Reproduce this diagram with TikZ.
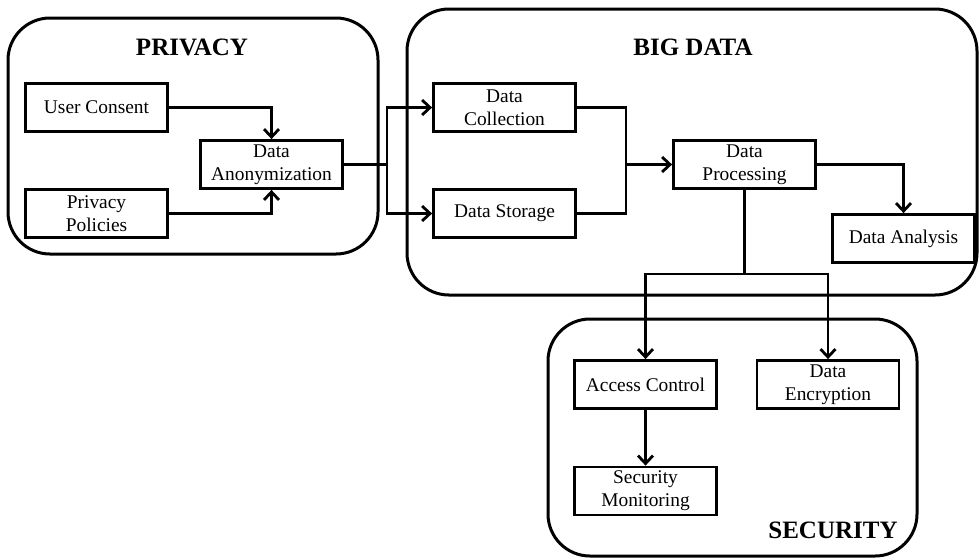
\documentclass[tikz,border=0pt]{standalone}
\usepackage{fontspec}
\setmainfont{Liberation Serif}
\usetikzlibrary{arrows.meta}
\usetikzlibrary{positioning}
\tikzset{
  box/.style={draw, line width=1.4pt, fill=white, minimum width=71pt, minimum height=24pt,
    align=center, inner sep=1pt, font=\fontsize{9.7pt}{11.5pt}\selectfont},
  group/.style={draw, line width=1.5pt, rounded corners=21pt},
  grouptitle/.style={font=\fontsize{12.5pt}{14pt}\selectfont\bfseries},
  arr/.style={line width=1.4pt, -{Straight Barb[length=4pt,width=7.5pt,line width=1.4pt]}},
  wire/.style={line width=1.4pt},
}

\begin{document}
\begin{tikzpicture}[x=0.5pt, y=-0.5pt]
      \useasboundingbox (0,0) rectangle (979,559);

      \draw [group] (8,18) rectangle (378,254);
      \draw [group] (407,9) rectangle (977,295);
      \draw [group] (548,319) rectangle (917,556);

      \node [grouptitle] (privacy) at (192,47) {PRIVACY};
      \node [grouptitle] (bigdata) at (693,47) {BIG DATA};
      \node [grouptitle] (security) at (833,530) {SECURITY};

      \node [box] (consent) at (96.5,107.5) {User Consent};
      \node [box] (policies) at (96.5,213.5) {Privacy\\Policies};
      \node [box] (anon) at (271.5,164.5) {Data\\Anonymization};
      \node [box] (collect) at (504.5,107.5) {Data\\Collection};
      \node [box] (storage) at (504.5,213.5) {Data Storage};
      \node [box] (process) at (744.5,164.5) {Data\\Processing};
      \node [box] (analysis) at (903.5,238.5) {Data Analysis};
      \node [box] (access) at (645.5,384.5) {Access Control};
      \node [box] (monitor) at (645.5,491) {Security\\Monitoring};
      \node [box] (encrypt) at (828,384.5) {Data\\Encryption};

      \coordinate (split) at (387,164.5);
      \coordinate (merge) at (626,164.5);
      \coordinate (branch) at (744.5,274);

      \draw [arr] (consent) -| (anon);
      \draw [arr] (policies) -| (anon);
      \draw [wire] (anon) -- (split);
      \draw [arr] (split) |- (collect);
      \draw [arr] (split) |- (storage);
      \draw [wire] (collect) -| (merge);
      \draw [wire] (storage) -| (merge);
      \draw [arr] (merge) -- (process);
      \draw [arr] (process) -| (analysis);
      \draw [wire] (process) -- (branch);
      \draw [arr] (branch) -| (access);
      \draw [arr] (branch) -| (encrypt);
      \draw [arr] (access) -- (monitor);
\end{tikzpicture}
\end{document}
